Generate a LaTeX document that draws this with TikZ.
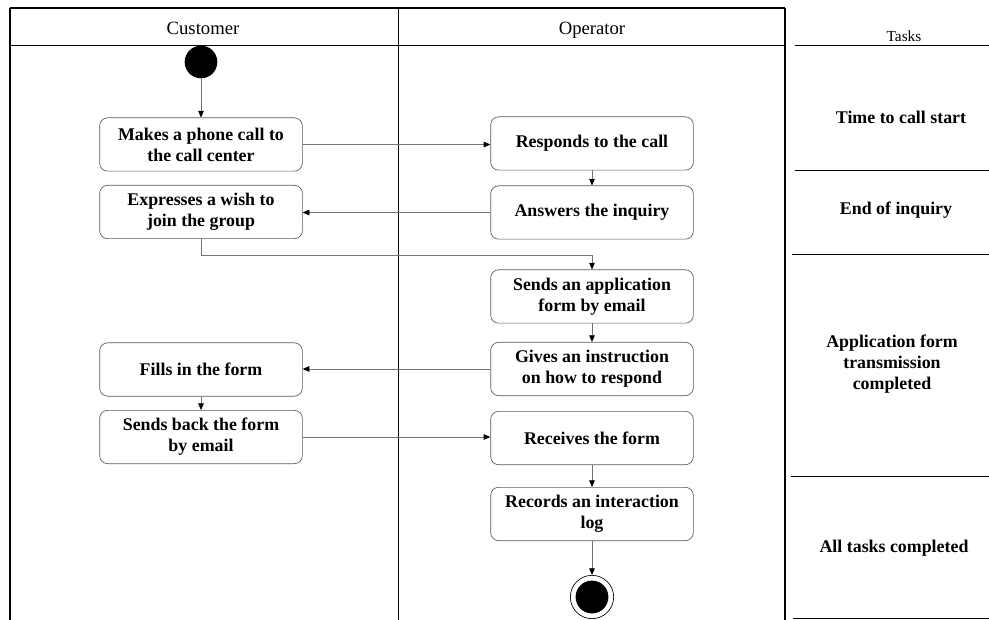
\documentclass[tikz,border=0pt]{standalone}
\usepackage{fontspec}
\setmainfont{Liberation Serif}
\usetikzlibrary{arrows.meta}
\begin{document}
\begin{tikzpicture}[x=0.75pt,y=-0.75pt,
  frame/.style={draw=black,line width=0.8pt},
  lane/.style={draw=black,line width=0.6pt},
  action/.style={draw=black!65,line width=0.5pt,rounded corners=6pt,
    minimum width=152pt,minimum height=40pt,align=center,inner sep=2pt,
    font=\fontsize{13.4}{15.8}\selectfont\bfseries},
  lanehead/.style={anchor=base,font=\fontsize{14}{16}\selectfont},
  taskhead/.style={anchor=base,font=\fontsize{11.5}{13}\selectfont},
  tasklabel/.style={align=center,font=\fontsize{13.4}{15.8}\selectfont\bfseries},
  flow/.style={draw=black!55,line width=0.5pt,-{Triangle[length=5pt,width=4.2pt,fill=black,color=black]}},
  startnode/.style={circle,fill=black,minimum size=24.5pt,inner sep=0pt},
  endnode/.style={circle,draw=black,line width=0.5pt,minimum size=32.5pt,inner sep=0pt}]
\useasboundingbox (0,0) rectangle (989,620);

% swimlane frame
\draw[frame,line width=1.4pt] (10,8) -- (785,8);
\draw[frame] (10,8) -- (10,620);
\draw[frame] (785,8) -- (785,620);
\draw[lane] (10,45) -- (785,45);
\draw[lane] (398,8) -- (398,620);
\node[lanehead] (hcust) at (203,34.5) {Customer};
\node[lanehead] (hoper) at (592,34.5) {Operator};

% task column
\node[taskhead] (htask) at (904,42) {Tasks};
\draw[lane] (795,45) -- (989,45);
\draw[lane] (795,170) -- (989,170);
\draw[lane] (792,254) -- (989,254);
\draw[lane] (791,476) -- (989,476);
\draw[lane] (793,618.5) -- (989,618.5);
\node[tasklabel] (t1) at (901,117) {Time to call start};
\node[tasklabel] (t2) at (896,210) {End of inquiry};
\node[tasklabel] (t3) at (892,364) {Application form\\transmission\\completed};
\node[tasklabel] (t4) at (894,548) {All tasks completed};

% customer lane
\node[startnode] (start) at (201,62) {};
\node[action] (call) at (201,144.5) {Makes a phone call to\\the call center};
\node[action] (wish) at (201,212) {Expresses a wish to\\join the group};
\node[action] (fill) at (201,369.5) {Fills in the form};
\node[action] (back) at (201,437) {Sends back the form\\by email};

% operator lane
\node[action] (resp) at (592,143.5) {Responds to the call};
\node[action] (answ) at (592,212.5) {Answers the inquiry};
\node[action] (send) at (592,296.5) {Sends an application\\form by email};
\node[action] (inst) at (592,369) {Gives an instruction\\on how to respond};
\node[action] (recv) at (592,438) {Receives the form};
\node[action] (logr) at (592,514) {Records an interaction\\log};
\node[endnode] (final) at (592,597) {};
\fill[black] (final.center) circle (12.3pt);

% control flow
\draw[flow] (start) -- (call);
\draw[flow] (call.east) -- (call.east -| resp.west);
\draw[flow] (resp) -- (answ);
\draw[flow] (answ.west) -- (answ.west -| wish.east);
\draw[flow] (wish.south) -- ++(0,16) -| (send.north);
\draw[flow] (send) -- (inst);
\draw[flow] (inst.west) -- (inst.west -| fill.east);
\draw[flow] (fill) -- (back);
\draw[flow] (back.east) -- (back.east -| recv.west);
\draw[flow] (recv) -- (logr);
\draw[flow] (logr) -- (final);
\end{tikzpicture}
\end{document}
